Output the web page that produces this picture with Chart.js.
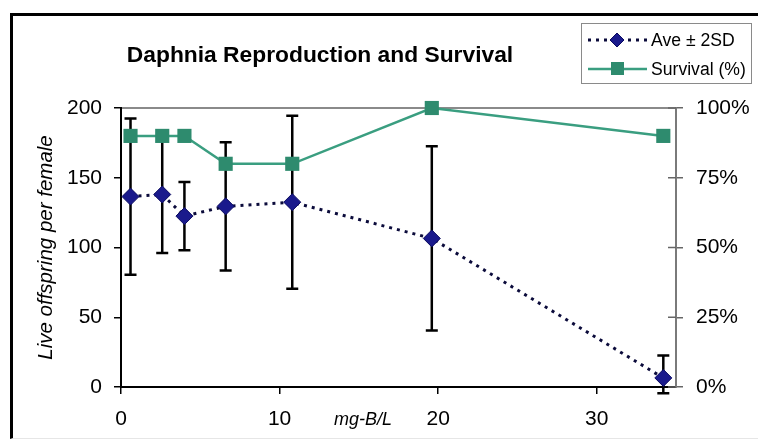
<!DOCTYPE html>
<html>
<head>
<meta charset="utf-8">
<script src="https://cdn.jsdelivr.net/npm/chart.js@4/dist/chart.umd.min.js"></script>
<style>
  html, body { margin: 0; padding: 0; background: #fff; }
  #wrap { position: relative; width: 758px; height: 439px; overflow: hidden; font-family: "Liberation Sans", Arial, sans-serif; }
  #c { position: absolute; left: 0; top: 0; }
  #frame { position: absolute; left: 10px; top: 13px; width: 800px; height: 422px; border-left: 3px solid #000; border-top: 3px solid #000; border-bottom: 1px solid #e6e6e6; pointer-events: none; }
  #title { position: absolute; left: 0; width: 640px; top: 41px; line-height: 26px; text-align: center; font-weight: bold; font-size: 22.8px; color: #000; }
  #xtitle { position: absolute; left: 313px; width: 100px; top: 408px; line-height: 22px; text-align: center; font-style: italic; font-size: 18px; color: #000; }
  #legend { position: absolute; left: 581px; top: 23px; width: 169px; height: 59px; border: 1px solid #8a8a8a; background: #fff; }
  .row { position: absolute; left: 0; height: 24px; width: 169px; }
  .row svg { position: absolute; left: 5px; top: 0; }
  .row span { position: absolute; left: 69px; top: 1px; font-size: 17.6px; line-height: 22px; color: #000; white-space: nowrap; }
</style>
</head>
<body>
<div id="wrap">
  <canvas id="c" width="758" height="439"></canvas>
  <div id="frame"></div>
  <div id="title">Daphnia Reproduction and Survival</div>
  <div id="xtitle">mg-B/L</div>
  <div id="legend">
    <div class="row" style="top:4px">
      <svg width="62" height="24"><line x1="1" y1="12" x2="60" y2="12" stroke="#0b0b3b" stroke-width="3" stroke-dasharray="3,5"/><polygon points="23,12 30,5 37,12 30,19" fill="#1a1a8c" stroke="#0a0a60" stroke-width="1"/></svg>
      <span>Ave ± 2SD</span>
    </div>
    <div class="row" style="top:33px">
      <svg width="62" height="24"><line x1="1" y1="12" x2="60" y2="12" stroke="#3a9e80" stroke-width="2.5"/><rect x="24" y="5" width="13" height="13" fill="#2e8b6e"/></svg>
      <span>Survival (%)</span>
    </div>
  </div>
</div>
<script>
// ---- data ----
const doses = [0.6, 2.6, 4.0, 6.6, 10.8, 19.6, 34.2];
const aveOffspring = [136.5, 138, 122.5, 129.5, 132.5, 106.5, 6.5];
const errPlus = [56, 42, 24.5, 46, 62, 66, 16];
const errMinus = [56, 42, 24.5, 46, 62, 66, 11];
const survivalPct = [90, 90, 90, 80, 80, 100, 90];
const xTicks = [0, 10, 20, 30];
const yTicks = [0, 50, 100, 150, 200];
const y1Ticks = [0, 25, 50, 75, 100];

const FONT = '"Liberation Sans", Arial, sans-serif';

const errorBars = {
  id: 'errorBars',
  beforeDatasetsDraw(chart) {
    const ctx = chart.ctx;
    const xs = chart.scales.x, ys = chart.scales.y;
    ctx.save();
    ctx.strokeStyle = '#000';
    ctx.lineWidth = 2.5;
    for (let i = 0; i < doses.length; i++) {
      const x = xs.getPixelForValue(doses[i]);
      const yT = ys.getPixelForValue(aveOffspring[i] + errPlus[i]);
      const yB = ys.getPixelForValue(aveOffspring[i] - errMinus[i]);
      ctx.beginPath();
      ctx.moveTo(x, yT); ctx.lineTo(x, yB);
      ctx.moveTo(x - 6, yT); ctx.lineTo(x + 6, yT);
      ctx.moveTo(x - 6, yB); ctx.lineTo(x + 6, yB);
      ctx.stroke();
    }
    ctx.restore();
  },
  afterDraw(chart) {
    const ctx = chart.ctx;
    const s = chart.scales.y1;
    ctx.save();
    ctx.strokeStyle = '#666';
    ctx.lineWidth = 1.5;
    s.ticks.forEach(t => {
      const y = s.getPixelForValue(t.value);
      ctx.beginPath();
      ctx.moveTo(s.left - 8, y); ctx.lineTo(s.left, y);
      ctx.stroke();
    });
    ctx.restore();
  }
};

new Chart(document.getElementById('c'), {
  type: 'line',
  data: {
    datasets: [
      {
        label: 'Survival (%)',
        data: doses.map((d, i) => ({ x: d, y: survivalPct[i] })),
        yAxisID: 'y1',
        borderColor: '#3a9e80',
        borderWidth: 2.5,
        backgroundColor: '#2e8b6e',
        pointStyle: 'rect',
        pointRadius: 10,
        pointBorderWidth: 0,
        pointBackgroundColor: '#2e8b6e',
        tension: 0,
        clip: false
      },
      {
        label: 'Ave ± 2SD',
        data: doses.map((d, i) => ({ x: d, y: aveOffspring[i] })),
        yAxisID: 'y',
        borderColor: '#0b0b3b',
        borderWidth: 3,
        borderDash: [3, 5],
        pointStyle: 'rectRot',
        pointRadius: 8.5,
        pointBackgroundColor: '#1a1a8c',
        pointBorderColor: '#0a0a60',
        pointBorderWidth: 1,
        tension: 0,
        clip: false
      }
    ]
  },
  options: {
    responsive: false,
    animation: false,
    events: [],
    layout: { padding: { left: 0, right: 0, top: 108, bottom: 0 } },
    plugins: { legend: { display: false }, title: { display: false }, tooltip: { enabled: false } },
    scales: {
      x: {
        type: 'linear', position: 'bottom', min: 0, max: 35,
        afterBuildTicks: s => { s.ticks = xTicks.map(v => ({ value: v })); },
        afterFit: s => { s.height = 52; },
        border: { color: '#000', width: 2 },
        grid: { drawOnChartArea: false, tickLength: 7, color: '#000', lineWidth: 1.5 },
        ticks: { color: '#000', font: { family: FONT, size: 21 }, padding: 13, maxRotation: 0 }
      },
      x2: {
        type: 'linear', position: 'top', min: 0, max: 35,
        afterFit: s => { s.height = 0; },
        border: { color: '#8a8a8a', width: 2 },
        grid: { drawOnChartArea: false, drawTicks: false },
        ticks: { display: false }
      },
      y: {
        type: 'linear', position: 'left', min: 0, max: 200,
        afterBuildTicks: s => { s.ticks = yTicks.map(v => ({ value: v })); },
        afterFit: s => { s.width = 121; },
        border: { color: '#000', width: 2 },
        grid: { drawOnChartArea: false, tickLength: 7, color: '#000', lineWidth: 1.5 },
        ticks: { color: '#000', font: { family: FONT, size: 21 }, padding: 12 },
        title: { display: true, text: 'Live offspring per female', color: '#000',
                 font: { family: FONT, size: 20.5, style: 'italic' }, padding: { top: 34, bottom: 0 } }
      },
      y1: {
        type: 'linear', position: 'right', min: 0, max: 100,
        afterBuildTicks: s => { s.ticks = y1Ticks.map(v => ({ value: v })); },
        afterFit: s => { s.width = 82; },
        border: { color: '#7a7a7a', width: 2 },
        grid: { drawOnChartArea: false, tickLength: 7, color: '#666', lineWidth: 1.5 },
        ticks: { color: '#000', font: { family: FONT, size: 21 }, padding: 13, callback: v => v + '%' }
      }
    }
  },
  plugins: [errorBars]
});
</script>
</body>
</html>
